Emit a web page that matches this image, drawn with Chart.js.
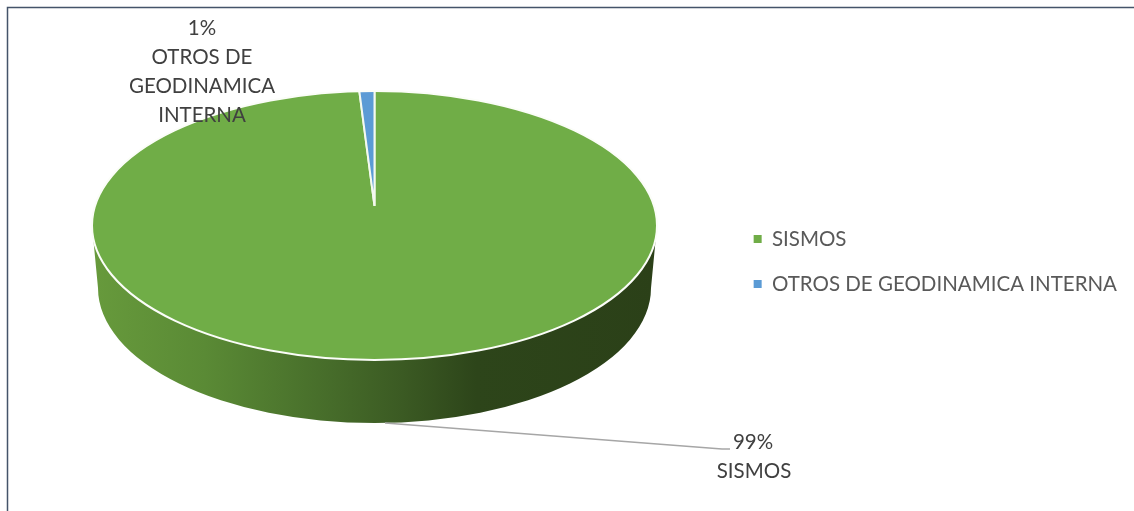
<!DOCTYPE html>
<html>
<head>
<meta charset="utf-8">
<style>
    html, body { margin: 0; padding: 0; background: #fff; overflow: hidden; }
    #wrap { position: relative; width: 1134px; height: 511px; }
</style>
<script src="https://cdn.jsdelivr.net/npm/chart.js@4"></script>
</head>
<body>
<div id="wrap"><canvas id="pieChart"></canvas></div>
<script>
const categories = ['SISMOS', 'OTROS DE GEODINAMICA INTERNA'];
const seriesValues = [99, 1];
const percentLabels = ['99%', '1%'];
const sliceColors = ['#70ad47', '#5b9bd5'];

const FONT = 'Lato, "Liberation Sans", sans-serif';
const TILT = 0.476;                     // how flat the pie looks
const apex = { x: 374.5, y: 206 };      // where the slices meet, it sits above the ellipse middle
const topFace = { x: 374.5, y: 225.5, rx: 282.5, ry: 134.5 };
const bottomFace = { x: 374.5, y: 288, rx: 276.5, ry: 135 };

const framePlugin = {
    id: 'frame',
    beforeDraw(chart) {
        const ctx = chart.ctx;
        ctx.save();
        ctx.strokeStyle = '#44546a';
        ctx.lineWidth = 1.5;
        ctx.beginPath();
        ctx.moveTo(7.5, chart.height);
        ctx.lineTo(7.5, 7.5);
        ctx.lineTo(chart.width, 7.5);
        ctx.stroke();
        ctx.restore();
    }
};

const pie3dPlugin = {
    id: 'pie3d',
    beforeDatasetsDraw(chart) {
        const ctx = chart.ctx;
        const arc = chart.getDatasetMeta(0).data[0];

        // side wall
        const wall = ctx.createLinearGradient(topFace.x - topFace.rx, 0, topFace.x + topFace.rx, 0);
        wall.addColorStop(0, '#679a3c');
        wall.addColorStop(0.2, '#5a8a35');
        wall.addColorStop(0.4, '#486f2b');
        wall.addColorStop(0.55, '#3b5a23');
        wall.addColorStop(0.68, '#2d451a');
        wall.addColorStop(1, '#2b4018');
        ctx.save();
        ctx.fillStyle = wall;
        ctx.beginPath();
        ctx.moveTo(topFace.x - topFace.rx, topFace.y);
        ctx.lineTo(bottomFace.x - bottomFace.rx, bottomFace.y);
        ctx.ellipse(bottomFace.x, bottomFace.y, bottomFace.rx, bottomFace.ry, 0, Math.PI, 0, true);
        ctx.lineTo(topFace.x + topFace.rx, topFace.y);
        ctx.closePath();
        ctx.fill();
        ctx.restore();

        // top face: slices squashed and clipped to the ellipse
        ctx.save();
        ctx.beginPath();
        ctx.ellipse(topFace.x, topFace.y, topFace.rx, topFace.ry, 0, 0, Math.PI * 2);
        ctx.clip();
        ctx.translate(apex.x, apex.y);
        ctx.scale(1, TILT);
        ctx.translate(-arc.x, -arc.y);
    },
    afterDatasetsDraw(chart) {
        const ctx = chart.ctx;
        ctx.restore();

        // white rim
        ctx.save();
        ctx.strokeStyle = '#fbfdf8';
        ctx.lineWidth = 2;
        ctx.beginPath();
        ctx.ellipse(topFace.x, topFace.y, topFace.rx, topFace.ry, 0, 0, Math.PI * 2);
        ctx.stroke();
        ctx.restore();

        // leader line of the big slice
        ctx.save();
        ctx.strokeStyle = '#a6a6a6';
        ctx.lineWidth = 1.3;
        ctx.beginPath();
        ctx.moveTo(385, 423);
        ctx.lineTo(722, 449);
        ctx.lineTo(730, 449);
        ctx.stroke();
        ctx.restore();

        // data labels
        ctx.save();
        ctx.fillStyle = '#404040';
        ctx.font = '20.5px ' + FONT;
        ctx.textAlign = 'center';
        ctx.textBaseline = 'middle';
        ctx.fillText(percentLabels[1], 202, 28);
        ['OTROS DE', 'GEODINAMICA', 'INTERNA'].forEach((line, i) => {
            ctx.fillText(line, 202, 57 + i * 29);
        });
        ctx.fillText(percentLabels[0], 753, 442);
        ctx.fillText(categories[0], 754, 471);
        ctx.restore();
    }
};

new Chart(document.getElementById('pieChart'), {
    type: 'pie',
    data: {
        labels: categories,
        datasets: [{
            data: seriesValues,
            backgroundColor: sliceColors,
            borderColor: '#f4f9ef',
            borderWidth: 2,
            radius: 360
        }]
    },
    options: {
        responsive: true,
        maintainAspectRatio: false,
        animation: false,
        layout: {
            padding: { top: 12, right: 7 }
        },
        plugins: {
            legend: {
                position: 'right',
                labels: {
                    boxWidth: 8,
                    boxHeight: 8,
                    padding: 24.5,
                    color: '#595959',
                    font: { family: FONT, size: 20.5 },
                    generateLabels(chart) {
                        return Chart.overrides.pie.plugins.legend.labels.generateLabels(chart)
                            .map((item) => ({ ...item, lineWidth: 0 }));
                    }
                }
            },
            tooltip: { enabled: false },
            title: { display: false }
        }
    },
    plugins: [framePlugin, pie3dPlugin]
});
</script>
</body>
</html>
